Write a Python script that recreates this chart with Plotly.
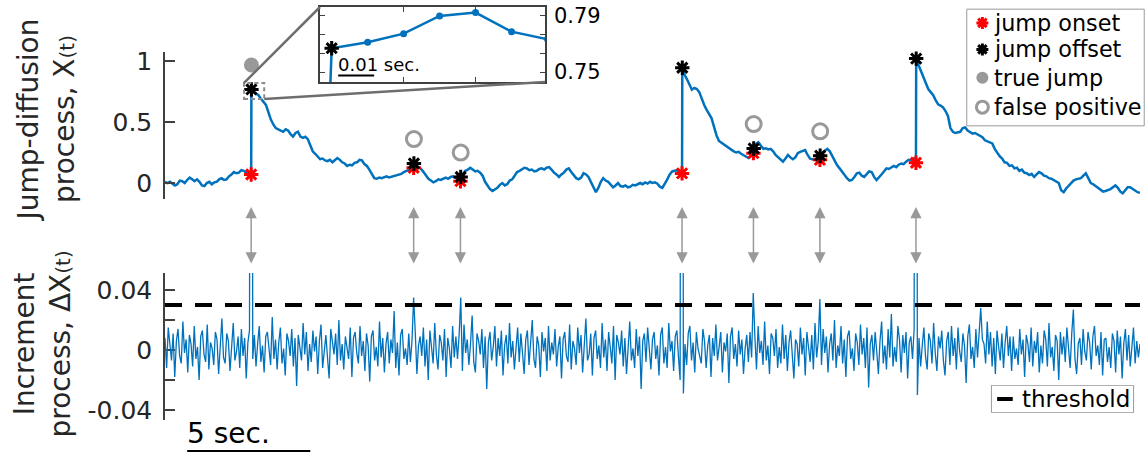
import numpy as np
import plotly.graph_objects as go

FONT = "DejaVu Sans"
BLUE = "#0072BD"
GREY = "#999999"
AXIS = "#262626"

# ----------------------------------------------------------------- data
T_END = 39.6      # length of the recording (s)
DT_PATH = 0.1     # spacing of the stored path samples (s)
DT_INC = 0.066    # spacing of the stored increment samples (s)
DT = 0.01         # native sampling interval (s)

# jump-diffusion path X(t), one value every DT_PATH seconds
x_path = [
    0.01, 0.0, 0.01, -0.005, -0.02, -0.01, 0.02, 0.015, 0.0, 0.025,
    0.045, 0.03, 0.015, 0.03, 0.01, -0.02, -0.025, 0.0, 0.01, -0.01,
    0.005, 0.01, 0.03, 0.04, 0.025, 0.03, 0.055, 0.07, 0.09, 0.08,
    0.085, 0.105, 0.1, 0.085, 0.09, 0.07, 0.745, 0.73, 0.72, 0.69,
    0.66, 0.64, 0.58, 0.52, 0.48, 0.45, 0.44, 0.43, 0.42, 0.44,
    0.43, 0.40, 0.38, 0.41, 0.42, 0.38, 0.37, 0.38, 0.36, 0.31,
    0.26, 0.24, 0.22, 0.195, 0.2, 0.185, 0.18, 0.19, 0.17, 0.19,
    0.205, 0.19, 0.17, 0.16, 0.14, 0.15, 0.145, 0.165, 0.17, 0.19,
    0.185, 0.155, 0.14, 0.11, 0.07, 0.04, 0.035, 0.045, 0.04, 0.05,
    0.055, 0.045, 0.05, 0.055, 0.06, 0.07, 0.075, 0.09, 0.1, 0.11,
    0.12, 0.125, 0.15, 0.13, 0.115, 0.09, 0.06, 0.035, 0.02, 0.005,
    0.015, 0.03, 0.025, 0.035, 0.045, 0.035, 0.05, 0.055, 0.04, 0.03,
    0.015, 0.07, 0.1, 0.11, 0.125, 0.11, 0.095, 0.1, 0.085, 0.06,
    0.01, -0.02, -0.05, -0.065, -0.05, -0.04, -0.015, 0.0, -0.02, -0.01,
    0.02, 0.03, 0.06, 0.09, 0.1, 0.115, 0.125, 0.12, 0.105, 0.11,
    0.095, 0.1, 0.115, 0.12, 0.11, 0.125, 0.13, 0.11, 0.085, 0.07,
    0.05, 0.07, 0.085, 0.11, 0.12, 0.09, 0.06, 0.04, 0.03, 0.045,
    0.08, 0.07, 0.05, 0.01, -0.04, -0.075, -0.04, 0.01, 0.04, 0.02,
    0.01, -0.01, -0.035, -0.02, 0.0, -0.025, -0.03, -0.02, -0.035, -0.03,
    -0.015, -0.02, -0.01, 0.0, -0.01, 0.005, -0.005, 0.01, 0.0, 0.005,
    -0.005, -0.03, -0.04, -0.01, 0.03, 0.07, 0.095, 0.1, 0.105, 0.09,
    0.079, 0.89, 0.85, 0.8, 0.765, 0.78, 0.77, 0.745, 0.69, 0.64,
    0.6, 0.56, 0.53, 0.46, 0.39, 0.345, 0.33, 0.32, 0.3, 0.285,
    0.27, 0.26, 0.25, 0.255, 0.24, 0.23, 0.215, 0.205, 0.22, 0.245,
    0.32, 0.335, 0.31, 0.28, 0.285, 0.275, 0.28, 0.26, 0.23, 0.21,
    0.19, 0.175, 0.2, 0.23, 0.21, 0.195, 0.21, 0.245, 0.255, 0.265,
    0.27, 0.23, 0.2, 0.195, 0.19, 0.2, 0.19, 0.25, 0.265, 0.28,
    0.26, 0.22, 0.18, 0.145, 0.12, 0.09, 0.065, 0.04, 0.02, 0.025,
    0.05, 0.08, 0.085, 0.06, 0.05, 0.075, 0.095, 0.09, 0.05, 0.025,
    0.045, 0.07, 0.095, 0.12, 0.115, 0.13, 0.14, 0.13, 0.15, 0.16,
    0.155, 0.175, 0.19, 0.185, 0.2, 0.166, 0.97, 0.92, 0.86, 0.81,
    0.77, 0.745, 0.72, 0.68, 0.645, 0.635, 0.62, 0.59, 0.55, 0.45,
    0.42, 0.41, 0.415, 0.42, 0.45, 0.455, 0.43, 0.42, 0.405, 0.41,
    0.4, 0.39, 0.375, 0.35, 0.34, 0.33, 0.325, 0.28, 0.245, 0.22,
    0.2, 0.17, 0.165, 0.14, 0.145, 0.12, 0.125, 0.1, 0.11, 0.085,
    0.08, 0.065, 0.075, 0.05, 0.07, 0.09, 0.08, 0.06, 0.055, 0.04,
    0.035, 0.025, 0.015, 0.0, -0.06, -0.075, -0.045, -0.025, 0.0, 0.02,
    0.03, 0.035, 0.04, 0.06, 0.08, 0.04, 0.0, -0.01, -0.025, -0.035,
    -0.055, -0.07, -0.065, -0.06, -0.05, -0.035, -0.02, -0.04, -0.07, -0.085,
    -0.06, -0.035, -0.035, -0.05, -0.06, -0.075, -0.08,
]

# detected jumps: onset time, value one native sample later, and whether real
jump_t = [3.5, 10.1, 12.0, 21.0, 23.9, 26.6, 30.5]
offset_val = [0.767, 0.16, 0.05, 0.945, 0.283, 0.224, 1.02]
is_true_jump = [True, False, False, True, False, False, True]

# native-rate samples right after the first jump (starting at its offset)
zoom_vals = [0.767, 0.7712, 0.7774, 0.79, 0.7924, 0.7788, 0.7734]

# increment process, in units of 1e-3, one value every DT_INC seconds
incr_milli = [
    8, -12, 15, 3, -7, 11, -18, 6, 14, -4, -9, 19, -2, 7, -15, 10, 4, -11, 16, -6, 2, -20, 9, 13, -3, -8, 17, -13, 5, 1,
    -10, 12, 7, -16, 3, 21, -5, -9, 11, 6, -14, 2, 18, -7, -1, 9, -12, 14, -4, 8, -19, 5, 13, 0, -6, 10, -11, 4, 16, -8,
    3, -15, 9, 12, -2, -10, 22, -6, 7, -13, 5, 15, -9, 1, -17, 11, 6, -4, 14, -11, 8, -24, 10, 3, -7, 18, -3, 12, -14, 4,
    -8, 13, -1, 9, -16, 6, 17, -12, 2, 10, -5, -19, 14, 7, -3, 11, -10, 20, -7, 4, -13, 9, 1, -6, 15, -18, 8, 12, -2, -9,
    16, -4, 6, -14, 11, 3, -21, 9, 13, -7, 2, -11, 19, -5, 8, -15, 4, 12, -9, 7, -2, 26, -12, 5, -17, 10, 14, -6, 1, -10,
    11, -8, 6, 0, 12, -16, 3, 9, -4, 15, -11, 7, -20, 13, 2, -9, 18, -3, -13, 10, 5, -7, 14, -18, 8, 1, -12, 16, -5, 9,
    -6, 10, 0, -14, 17, -2, 7, -10, 4, 23, -8, -15, 11, 6, -3, 14, -12, 9, -26, 5, 12, -7, 2, 16, -11, 8, -4, 13, -17, 3,
    10, -9, 18, -5, 6, -13, 1, 15, -8, 11, -2, -16, 7, 13, -10, 4, 20, -6, -12, 9, 3, -18, 12, -1, 8, -14, 16, -7, 5, -3,
    14, -11, 2, 9, -19, 7, 12, -4, -8, 17, -13, 6, 1, -10, 15, -2, 10, -15, 4, 21, -7, -3, 11, -17, 8, 13, -6, 3, -12, 18,
    -5, 7, -14, 12, 2, -9, 16, -20, 10, 5, -3, 13, -11, 8, -16, 4, 19, -7, 1, -12, 14, -4, 9, -26, 6, 11, -8, 15, -2, -13,
    7, 12, -6, 3, -17, 10, 15, -9, 2, -12, 18, -1, 6, -14, 9, 13, -5, -20, 0, -29, 4, -10, 11, 16, -7, 5, -15, 12, 1, -4,
    -9, 14, 6, -12, 3, 10, -18, 8, -4, 17, -7, 2, 12, -15, 5, -1, 11, -22, 9, 15, -6, 4, -11, 13, -3, 7, -16, 1, 10, -8,
    12, -5, 0, 9, -13, 16, -2, 6, -10, 19, -7, 3, -16, 11, 8, -4, 14, -12, 2, -9, 17, -6, 10, -14, 5, 13, -1, -19, 7, 4,
    -11, 15, -3, 8, -17, 12, 2, -8, 10, -13, 18, -5, 6, 0, -10, 14, -2, 9, -15, 4, 11, -7, 20, -12, 3, -4, 16, -9, 7, -18,
    9, 13, -6, 1, -14, 11, 5, -10, 17, -3, 8, -12, 15, -25, 4, 10, -7, 12, -1, -16, 6, 19, -9, 3, -13, 14, -5, 24, -11, 2,
    -8, 16, 7, -15, 10, -2, 12, -19, 5, 9, -6, 14, 0, -30, 8, -11, 3, 15, -4, -13, 11, 6, -9, 18, -2, -14, 9, 1, 13, -7,
    -17, 6, 12, -10, 16, -4, 8, -13, 15, -1, -8, 11, 3, -22, 9, 17, -6, 2, -12, 14, -5, 10, 28, 7, 4, -9, 19, -3, 12, -11,
    8, -16, 13, 2, -7, 11, -12, 5, 16, -4, 9, -14, 9, -6, 1, -10, 14, -3, 7, -18, 10, 4, -8, 15, -11, 6, -2, 12, -15, 3,
    -9, 13, 7, -11, 18, -5, 2, -14, 10, 6, -20, 12, -3, 9, -8, 15, 1, -12, 11, 27, -6, -16, 4, 8, -10, 14, -1, -7, 12, 5,
    -13, 9, 16, -4, 3, -10, 12, -17, 7, 8, -8, 2, -12, 11, 6, -15, 13, -3, 9, -19, 4, 14, -7, 10, -11, 1, 15, -9, 6, -5,
    4,
]

threshold = 0.03
marker_lift = 0.2   # circles are drawn this far above each jump offset

legend_labels = ["jump onset", "jump offset", "true jump", "false positive"]
threshold_label = "threshold"

# ------------------------------------------------------- derived series
k_jump = [int(round(t / DT_PATH)) for t in jump_t]
onset_val = [x_path[k] for k in k_jump]
offset_t = [t + DT for t in jump_t]

t_x, v_x = [], []
for k, v in enumerate(x_path):
    t = k * DT_PATH
    t_x.append(t)
    v_x.append(v)
    if k in k_jump:
        t_x.append(t + DT)
        v_x.append(offset_val[k_jump.index(k)])

incr = np.array(incr_milli, dtype=float) / 1000.0
t_inc = np.arange(len(incr)) * DT_INC
for t, on, off in zip(jump_t, onset_val, offset_val):
    incr[int(round(t / DT_INC))] = off - on

zoom_t = [jump_t[0]] + [offset_t[0] + i * DT for i in range(len(zoom_vals))]
zoom_v = [onset_val[0]] + zoom_vals

# --------------------------------------------------------------- layout
W, H = 1148, 453
MARGIN = dict(l=165, r=2, t=7, b=33)
PW = W - MARGIN["l"] - MARGIN["r"]
PH = H - MARGIN["t"] - MARGIN["b"]
X_RIGHT = 1140    # right end of the time axes (pixel column)


def py(p):
    """pixel row -> paper y"""
    return (H - MARGIN["b"] - p) / PH


def px(p):
    """pixel column -> paper x"""
    return (p - MARGIN["l"]) / PW


def t_at(p):
    """pixel column -> time on the main axes"""
    return (p - MARGIN["l"]) / (X_RIGHT - MARGIN["l"]) * T_END


MAIN_XDOM = [0.0, px(X_RIGHT)]
TOP_DOM = [py(199), py(52)]
BOT_DOM = [0.0, py(273)]
INS_XDOM = [px(320), px(545)]
INS_YDOM = [py(82), 1.0]
LEG_XDOM = [px(965), px(1146)]
LEG_YDOM = [py(127), py(8)]
LEG2_XDOM = [px(990), px(1135)]
LEG2_YDOM = [py(413), py(385)]
TOP_RANGE = [-0.131, 1.074]
BOT_RANGE = [-0.0467, 0.0513]
INS_XRANGE = [offset_t[0] - 0.00325, offset_t[0] + 0.0593]
INS_YRANGE = [0.7429, 0.7964]
KEY_RANGE = [-0.01, 1.01]


def top_paper_y(v):
    f = (v - TOP_RANGE[0]) / (TOP_RANGE[1] - TOP_RANGE[0])
    return TOP_DOM[0] + f * (TOP_DOM[1] - TOP_DOM[0])


fig = go.Figure()

# increment process and threshold
fig.add_trace(go.Scatter(x=t_inc, y=incr, mode="lines", xaxis="x2", yaxis="y2",
                         line=dict(color=BLUE, width=1.3), showlegend=False,
                         hoverinfo="skip"))
fig.add_trace(go.Scatter(x=[0, T_END], y=[threshold, threshold], mode="lines",
                         xaxis="x2", yaxis="y2", showlegend=False, hoverinfo="skip",
                         line=dict(color="black", width=4, dash="17px,13px")))

# jump-diffusion path
fig.add_trace(go.Scatter(x=t_x, y=v_x, mode="lines", showlegend=False,
                         line=dict(color=BLUE, width=2.5), hoverinfo="skip"))

star = dict(symbol="asterisk-open", size=12)
onset_style = dict(**star, color="#FF0000", line=dict(color="#FF0000", width=3))
offset_style = dict(**star, color="black", line=dict(color="black", width=3))
true_style = dict(symbol="circle", size=15, color=GREY)
fp_style = dict(symbol="circle-open", size=15, color=GREY, line=dict(color=GREY, width=3))

fig.add_trace(go.Scatter(x=jump_t, y=onset_val, mode="markers", showlegend=False,
                         cliponaxis=False, marker=onset_style))
fig.add_trace(go.Scatter(x=offset_t, y=offset_val, mode="markers", showlegend=False,
                         cliponaxis=False, marker=offset_style))

tj_t = [t for t, f in zip(offset_t, is_true_jump) if f]
tj_v = [v + marker_lift for v, f in zip(offset_val, is_true_jump) if f]
fp_t = [t for t, f in zip(offset_t, is_true_jump) if not f]
fp_v = [v + marker_lift for v, f in zip(offset_val, is_true_jump) if not f]
fig.add_trace(go.Scatter(x=tj_t, y=tj_v, mode="markers", showlegend=False,
                         cliponaxis=False, marker=true_style))
fig.add_trace(go.Scatter(x=fp_t, y=fp_v, mode="markers", showlegend=False,
                         cliponaxis=False, marker=fp_style))

# inset: native-rate view of the first jump
fig.add_trace(go.Scatter(x=zoom_t, y=zoom_v, mode="lines+markers", xaxis="x3", yaxis="y3",
                         line=dict(color=BLUE, width=2.5),
                         marker=dict(color=BLUE, size=7), showlegend=False,
                         hoverinfo="skip"))
fig.add_trace(go.Scatter(x=[offset_t[0]], y=[offset_val[0]], mode="markers",
                         xaxis="x3", yaxis="y3", showlegend=False, marker=offset_style))

# keys: each drawn in its own small subplot, above the data
frame = dict(x=[0, 1, 1, 0, 0], y=[0, 0, 1, 1, 0], mode="lines", fill="toself",
             fillcolor="white", line=dict(color=GREY, width=1), showlegend=False,
             hoverinfo="skip")
fig.add_trace(go.Scatter(**frame, xaxis="x4", yaxis="y4"))
key_rows = [0.882, 0.655, 0.412, 0.16]
key_styles = [dict(onset_style, size=10), dict(offset_style, size=10),
              dict(true_style, size=12), dict(fp_style, size=12)]
for yk, mk in zip(key_rows, key_styles):
    fig.add_trace(go.Scatter(x=[0.088], y=[yk], mode="markers", xaxis="x4", yaxis="y4",
                             showlegend=False, cliponaxis=False, marker=mk,
                             hoverinfo="skip"))
for yk, lab in zip(key_rows, legend_labels):
    fig.add_annotation(x=0.14, xref="x4", y=yk, yref="y4", text=lab, showarrow=False,
                       xanchor="left", yanchor="middle",
                       font=dict(family=FONT, size=22.3, color="black"))

fig.add_trace(go.Scatter(**frame, xaxis="x5", yaxis="y5"))
fig.add_trace(go.Scatter(x=[0.04, 0.15], y=[0.5, 0.5], mode="lines", xaxis="x5",
                         yaxis="y5", showlegend=False, hoverinfo="skip",
                         line=dict(color="black", width=4)))
fig.add_annotation(x=0.2, xref="x5", y=0.5, yref="y5", text=threshold_label,
                   showarrow=False, xanchor="left", yanchor="middle",
                   font=dict(family=FONT, size=23, color="black"))

tickfont = dict(family=FONT, size=25, color=AXIS)
yax_common = dict(showgrid=False, zeroline=False, showline=True, linecolor="#404040",
                  linewidth=1.5, ticks="inside", ticklen=10, tickwidth=1.5,
                  tickcolor="#404040", tickfont=tickfont, ticklabelstandoff=6)
key_ax = dict(range=KEY_RANGE, visible=False, fixedrange=True)

fig.update_layout(
    width=W, height=H, margin=dict(**MARGIN, autoexpand=False),
    paper_bgcolor="white", plot_bgcolor="rgba(0,0,0,0)", showlegend=False,
    font=dict(family=FONT, size=22, color="black"),
    xaxis=dict(domain=MAIN_XDOM, range=[0, T_END], visible=False, anchor="y"),
    yaxis=dict(domain=TOP_DOM, range=TOP_RANGE, anchor="x",
               tickvals=[0, 0.5, 1], ticktext=["0", "0.5", "1"], **yax_common),
    xaxis2=dict(domain=MAIN_XDOM, range=[0, T_END], visible=False, anchor="y2"),
    yaxis2=dict(domain=BOT_DOM, range=BOT_RANGE, anchor="x2", layer="below traces",
                tickvals=[-0.04, -0.02, 0, 0.02, 0.04],
                ticktext=["-0.04", "", "0", "", "0.04"], **yax_common),
    xaxis3=dict(domain=INS_XDOM, range=INS_XRANGE, anchor="y3", showgrid=False,
                zeroline=False, showline=True, mirror="ticks", linecolor="#404040",
                linewidth=1.5, ticks="inside", ticklen=5, tickcolor="#404040",
                tickvals=[offset_t[0] + 2 * DT, offset_t[0] + 4 * DT],
                ticktext=["", ""]),
    yaxis3=dict(domain=INS_YDOM, range=INS_YRANGE, anchor="x3", side="right",
                showgrid=False, zeroline=False, showline=True, mirror="ticks",
                linecolor="#404040", linewidth=1.5, ticks="inside", ticklen=5,
                tickcolor="#404040",
                tickvals=[0.75, 0.75 + 0.04 / 3, 0.75 + 0.08 / 3, 0.79],
                ticktext=["0.75", "", "", "0.79"],
                tickfont=dict(family=FONT, size=21, color="black"),
                ticklabelstandoff=3),
    xaxis4=dict(domain=LEG_XDOM, anchor="y4", **key_ax),
    yaxis4=dict(domain=LEG_YDOM, anchor="x4", **key_ax),
    xaxis5=dict(domain=LEG2_XDOM, anchor="y5", **key_ax),
    yaxis5=dict(domain=LEG2_YDOM, anchor="x5", **key_ax),
)

# zoom box around the first offset and its links to the inset
box_x = [offset_t[0] - 0.30, offset_t[0] + 0.52]
box_y = [offset_val[0] - 0.078, offset_val[0] + 0.053]
fig.add_shape(type="rect", xref="x", yref="y", x0=box_x[0], x1=box_x[1],
              y0=box_y[0], y1=box_y[1],
              line=dict(color="#8c8c8c", width=2, dash="4px,3px"))
link = dict(color="#6e6e6e", width=2.5)
fig.add_shape(type="line", xref="x", yref="paper",
              x0=box_x[0], y0=top_paper_y(box_y[1]),
              x1=t_at(320), y1=INS_YDOM[1], line=link)
fig.add_shape(type="line", xref="x", yref="paper",
              x0=box_x[1], y0=top_paper_y(box_y[0]),
              x1=t_at(545), y1=INS_YDOM[0], line=link)

# double-headed arrows linking each detection to its increment
for t in jump_t:
    fig.add_annotation(x=t, xref="x", y=py(207), yref="paper", text="",
                       showarrow=True, ax=0, ay=58, axref="pixel", ayref="pixel",
                       arrowhead=2, arrowside="end+start", arrowsize=1.5,
                       arrowwidth=1.5, arrowcolor=GREY)

# 5 s scale bar
fig.add_shape(type="line", xref="x2", yref="paper", x0=0.9, x1=5.9,
              y0=py(451), y1=py(451), line=dict(color="black", width=2))
fig.add_annotation(x=0.8, xref="x2", y=py(433), yref="paper", text="5 sec.",
                   showarrow=False, xanchor="left", yanchor="middle",
                   font=dict(family=FONT, size=28, color="black"))

# 0.01 s scale bar in the inset
bar0 = offset_t[0] + 0.0018
fig.add_shape(type="line", xref="x3", yref="paper", x0=bar0, x1=bar0 + DT,
              y0=py(75.5), y1=py(75.5), line=dict(color="black", width=2))
fig.add_annotation(x=bar0 - 0.0005, xref="x3", y=py(64), yref="paper", text="0.01 sec.",
                   showarrow=False, xanchor="left", yanchor="middle",
                   font=dict(family=FONT, size=18, color="black"))

# axis titles
fig.add_annotation(x=px(46.5), xref="paper", y=py(120), yref="paper", textangle=-90,
                   text="Jump-diffusion<br>process, X<span style='font-size:20px'>(t)</span>",
                   showarrow=False, xanchor="center", yanchor="middle",
                   font=dict(family=FONT, size=28, color=AXIS))
fig.add_annotation(x=px(41.5), xref="paper", y=py(344), yref="paper", textangle=-90,
                   text="Increment<br>process, ΔX<span style='font-size:20px'>(t)</span>",
                   showarrow=False, xanchor="center", yanchor="middle",
                   font=dict(family=FONT, size=28, color=AXIS))

fig.write_html("out.html")
